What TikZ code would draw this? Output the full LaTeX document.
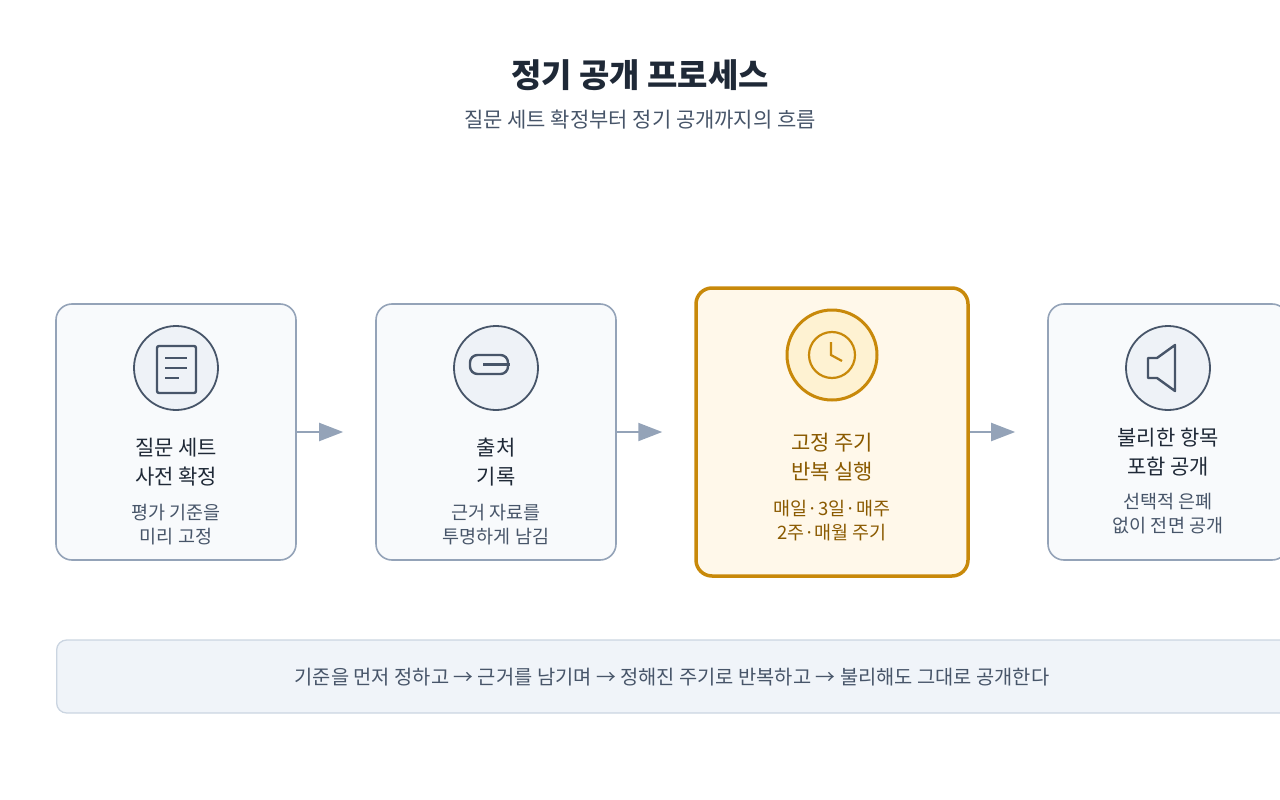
\documentclass[tikz,border=0pt]{standalone}
\usepackage{fontspec}
\setmainfont{Noto Sans CJK KR}
\usetikzlibrary{positioning,arrows.meta}
\definecolor{ink}{HTML}{1F2937}
\definecolor{slate}{HTML}{475569}
\definecolor{edge}{HTML}{94A3B8}
\definecolor{paper}{HTML}{F8FAFC}
\definecolor{iconbg}{HTML}{EEF2F7}
\definecolor{gold}{HTML}{C8890A}
\definecolor{goldbg}{HTML}{FFF8EA}
\definecolor{goldin}{HTML}{FEF2D2}
\definecolor{goldtx}{HTML}{8A5A00}
\definecolor{barbg}{HTML}{F0F4F9}
\definecolor{barln}{HTML}{CBD5E1}
\tikzset{
  stage/.style={draw=edge, line width=1.6pt, fill=paper, rounded corners=16pt,
    minimum width=240pt, minimum height=256pt},
  hot/.style={draw=gold, line width=3.5pt, fill=goldbg, rounded corners=16pt,
    minimum width=272pt, minimum height=288pt},
  badge/.style={circle, draw=slate, line width=1.8pt, fill=iconbg, minimum size=84pt},
  label/.style={text=ink, font=\fontsize{21pt}{29pt}\selectfont, align=center},
  note/.style={text=slate, font=\fontsize{18.5pt}{24pt}\selectfont, align=center},
  flow/.style={draw=edge, line width=2pt, -{Triangle[length=24pt,width=18pt]}, shorten >=32pt},
}
\begin{document}
\begin{tikzpicture}[x=1pt,y=-1pt]
\useasboundingbox (0,0) rectangle (1280,800);
% title
\node[text=ink, font=\bfseries\fontsize{33pt}{38pt}\selectfont] (title) at (640,75) {정기 공개 프로세스};
\node[text=slate, font=\fontsize{21pt}{26pt}\selectfont] (sub) at (640,120) {질문 세트 확정부터 정기 공개까지의 흐름};

% stages
\node[stage] (fix) at (176,432) {};
\node[stage] (src) at (496,432) {};
\node[hot] (run) at (832,432) {};
\node[stage] (pub) at (1168,432) {};

% stage 1: document icon
\node[badge] (fixic) at (176,368) {};
\draw[slate, line width=2.4pt, rounded corners=2pt] (157,346) rectangle (196,393);
\draw[slate, line width=2.2pt] (165,358) -- (187,358) (165,368) -- (187,368) (165,378) -- (179,378);
\node[label] at (176,462) {질문 세트\\사전 확정};
\node[note] at (176,525) {평가 기준을\\미리 고정};

% stage 2: link icon
\node[badge] (srcic) at (496,368) {};
\draw[slate, line width=2.4pt, rounded corners=7.5pt] (470,355) rectangle (508,374);
\draw[slate, line width=2.2pt] (483,364.5) -- (510,364.5);
\node[label] at (496,462) {출처\\기록};
\node[note] at (496,525) {근거 자료를\\투명하게 남김};

% stage 3: clock icon
\node[badge, draw=gold, line width=3pt, fill=goldin, minimum size=90pt] (runic) at (832,355) {};
\draw[gold, line width=2.2pt] (832,355) circle (23);
\draw[gold, line width=2.2pt] (831,342) -- (831,355) -- (842,361);
\node[label, text=goldtx] at (832,457) {고정 주기\\반복 실행};
\node[note, text=goldtx] at (832,521) {매일·3일·매주\\2주·매월 주기};

% stage 4: speaker icon
\node[badge] (pubic) at (1168,368) {};
\draw[slate, line width=2.4pt, line join=round] (1148,358) -- (1157,358) -- (1175,345) -- (1175,391) -- (1157,378) -- (1148,378) -- cycle;
\node[label] at (1168,452) {불리한 항목\\포함 공개};
\node[note] at (1168,514) {선택적 은폐\\없이 전면 공개};

% arrows
\draw[flow] (fix.east) -- (src.west);
\draw[flow] (src.east) -- (run.west);
\draw[flow] (run.east) -- (pub.west);

% summary bar
\node[draw=barln, line width=1.3pt, fill=barbg, rounded corners=10pt,
  minimum width=1236pt, minimum height=73pt, anchor=west] (bar) at (56,676.5) {};
\node[text=slate, font=\fontsize{19.8pt}{24pt}\selectfont] (bartx) at (672,677) {기준을 먼저 정하고 → 근거를 남기며 → 정해진 주기로 반복하고 → 불리해도 그대로 공개한다};
\end{tikzpicture}
\end{document}
